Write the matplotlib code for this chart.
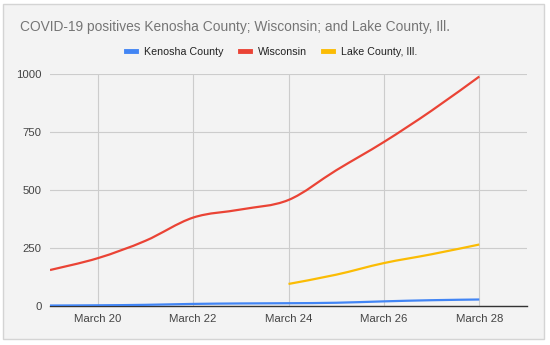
import numpy as np
import matplotlib
matplotlib.use("Agg")
import matplotlib.pyplot as plt
from matplotlib.path import Path
from matplotlib.patches import PathPatch, Rectangle
from matplotlib.lines import Line2D

plt.rcParams['font.family'] = ['Liberation Sans', 'DejaVu Sans']

# data (March 19 .. March 28)
days = [19, 20, 21, 22, 23, 24, 25, 26, 27, 28]
kenosha = [2, 3, 5, 9, 11, 12, 14, 20, 25, 28]
wisconsin = [155, 206, 281, 381, 416, 457, 585, 707, 842, 989]
lake_days = [24, 25, 26, 27, 28]
lake = [95, 135, 185, 223, 265]

tick_days = [20, 22, 24, 26, 28]
tick_labels = ["March 20", "March 22", "March 24", "March 26", "March 28"]

names = ["Kenosha County", "Wisconsin", "Lake County, Ill."]
colors = ["#4285f4", "#ea4335", "#fbbc04"]


def smooth_path(xs, ys):
    # cubic bezier through the points (catmull-rom style control points)
    xs = np.asarray(xs, float)
    ys = np.asarray(ys, float)
    verts = [(xs[0], ys[0])]
    codes = [Path.MOVETO]
    n = len(xs)
    for i in range(n - 1):
        p0 = (xs[max(i - 1, 0)], ys[max(i - 1, 0)])
        p1 = (xs[i], ys[i])
        p2 = (xs[i + 1], ys[i + 1])
        p3 = (xs[min(i + 2, n - 1)], ys[min(i + 2, n - 1)])
        c1 = (p1[0] + (p2[0] - p0[0]) / 6, p1[1] + (p2[1] - p0[1]) / 6)
        c2 = (p2[0] - (p3[0] - p1[0]) / 6, p2[1] - (p3[1] - p1[1]) / 6)
        verts += [c1, c2, p2]
        codes += [Path.CURVE4] * 3
    return Path(verts, codes)


fig = plt.figure(figsize=(5.5, 3.45), dpi=100)
fig.patch.set_facecolor("white")
frame = Rectangle((3 / 550, 6 / 345), 541 / 550, 335 / 345,
                  transform=fig.transFigure, facecolor="#f3f3f3",
                  edgecolor="#d4d4d4", linewidth=1, zorder=-10)
fig.patches.append(frame)

ax = fig.add_axes([50 / 550, 39 / 345, 477 / 550, 232 / 345])
ax.set_facecolor("none")

for xs, ys, c in [(days, kenosha, colors[0]), (days, wisconsin, colors[1]),
                  (lake_days, lake, colors[2])]:
    ax.add_patch(PathPatch(smooth_path(xs, ys), facecolor="none",
                           edgecolor=c, linewidth=1.6, zorder=3))

ax.set_xlim(19, 29)
ax.set_ylim(0, 1000)
ax.set_yticks([0, 250, 500, 750, 1000])
ax.set_xticks(tick_days)
ax.set_xticklabels(tick_labels)
ax.grid(True, color="#cccccc", linewidth=0.8)
ax.set_axisbelow(True)
for s in ["top", "right", "left"]:
    ax.spines[s].set_visible(False)
ax.spines["bottom"].set_color("#333333")
ax.spines["bottom"].set_linewidth(1)
ax.spines["bottom"].set_zorder(2)
ax.tick_params(length=0, labelsize=8.2, colors="#444444", pad=6)

fig.text(20 / 550, 1 - 27 / 345, "COVID-19 positives Kenosha County; Wisconsin; and Lake County, Ill.",
         fontsize=9.9, color="#757575", va="center", ha="left")

handles = [Line2D([], [], color=c, linewidth=3.5) for c in colors]
fig.legend(handles, names, loc="center", bbox_to_anchor=(272 / 550, 1 - 52 / 345),
           ncol=3, frameon=False, fontsize=7.7, handlelength=0.95,
           handletextpad=0.75, columnspacing=1.5, labelcolor="#222222")

fig.savefig("out.png", dpi=100, facecolor=fig.get_facecolor())
